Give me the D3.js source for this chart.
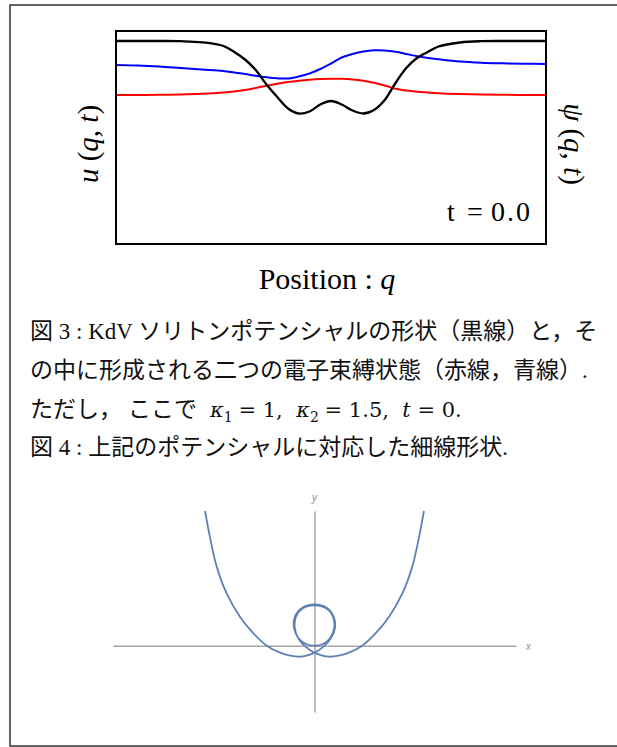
<!DOCTYPE html>
<html>
<head>
<meta charset="utf-8">
<script src="https://cdn.jsdelivr.net/npm/d3@7"></script>
<style>
  body { margin: 0; background: #fff; }
</style>
</head>
<body>
<div id="chart"></div>
<script>
// KdV 2-soliton potential (black) and its two bound states (red, blue), t = 0
const positions = [-10, -9, -8, -7, -6, -5, -4.5, -4, -3.5, -3, -2.5, -2, -1.5, -1, -0.5, 0,
  0.5, 1, 1.5, 2, 2.5, 3, 3.5, 4, 4.5, 5, 6, 7, 8, 9, 10];
const potential = [0, 0, 0, -0.002, -0.013, -0.05, -0.11, -0.185, -0.29, -0.435, -0.56, -0.675, -0.725, -0.705, -0.635, -0.6,
  -0.635, -0.695, -0.725, -0.69, -0.59, -0.42, -0.27, -0.17, -0.11, -0.055, -0.015, -0.002, 0, 0, 0];
const boundRed = [-0.54, -0.54, -0.538, -0.535, -0.528, -0.515, -0.505, -0.49, -0.47, -0.447, -0.427, -0.41, -0.397, -0.387, -0.38, -0.377,
  -0.378, -0.385, -0.398, -0.418, -0.445, -0.477, -0.495, -0.507, -0.515, -0.522, -0.53, -0.535, -0.538, -0.54, -0.54];
const boundBlue = [-0.24, -0.245, -0.255, -0.27, -0.285, -0.3, -0.315, -0.33, -0.348, -0.363, -0.373, -0.375, -0.355, -0.325, -0.28, -0.225,
  -0.165, -0.13, -0.105, -0.092, -0.095, -0.108, -0.13, -0.153, -0.17, -0.183, -0.205, -0.217, -0.223, -0.227, -0.23];

// thin wire shape (figure 4), points along the curve
const wireX = [-5.43, -5.19, -4.85, -4.36, -3.7, -3.04, -2.37, -1.71, -1.2, -0.72, -0.35, 0, 0.45, 0.8, 1.02, 0.95, 0.62, 0,
  -0.62, -0.97, -1.02, -0.78, -0.4, 0, 0.4, 0.76, 0.98, 0.92, 0.6, 0, -0.6, -0.92, -0.98, -0.8, -0.45, 0,
  0.35, 0.72, 1.2, 1.71, 2.37, 3.04, 3.7, 4.36, 4.85, 5.19, 5.43];
const wireY = [6.7, 5.41, 3.92, 2.6, 1.44, 0.62, 0, -0.35, -0.5, -0.55, -0.48, -0.35, -0.05, 0.35, 0.9, 1.45, 1.88, 2.05,
  1.88, 1.45, 0.9, 0.35, 0.07, 0, 0.07, 0.35, 0.9, 1.44, 1.85, 2.01, 1.85, 1.44, 0.9, 0.35, -0.05, -0.35,
  -0.48, -0.55, -0.5, -0.35, 0, 0.62, 1.44, 2.6, 3.92, 5.41, 6.7];

const serif = "'Liberation Serif', 'Times New Roman', 'Noto Sans CJK JP', serif";
const mathFont = "'DejaVu Serif', serif";

const svg = d3.select('#chart')
  .append('svg')
  .attr('width', 617)
  .attr('height', 747);

// outer page frame
svg.append('rect')
  .attr('x', 10).attr('y', 5)
  .attr('width', 640).attr('height', 741)
  .attr('fill', 'none')
  .attr('stroke', '#333')
  .attr('stroke-width', 1.5);

// ---- figure 3 ----
const x = d3.scaleLinear().domain([-10, 10]).range([116, 546]);
const y = d3.scaleLinear().domain([-2.03, 0.1]).range([244, 31]);

svg.append('clipPath').attr('id', 'clip')
  .append('rect')
  .attr('x', x(-10)).attr('y', y(0.1))
  .attr('width', x(10) - x(-10)).attr('height', y(-2.03) - y(0.1));

const line = d3.line()
  .x((d, i) => x(positions[i]))
  .y(d => y(d))
  .curve(d3.curveCatmullRom);

const plot = svg.append('g').attr('clip-path', 'url(#clip)');

plot.append('path').datum(boundRed)
  .attr('d', line).attr('fill', 'none')
  .attr('stroke', '#ff0000').attr('stroke-width', 2);

plot.append('path').datum(boundBlue)
  .attr('d', line).attr('fill', 'none')
  .attr('stroke', '#0000ff').attr('stroke-width', 2);

plot.append('path').datum(potential)
  .attr('d', line).attr('fill', 'none')
  .attr('stroke', '#000').attr('stroke-width', 2.3);

svg.append('rect')
  .attr('x', x(-10)).attr('y', y(0.1))
  .attr('width', x(10) - x(-10)).attr('height', y(-2.03) - y(0.1))
  .attr('fill', 'none')
  .attr('stroke', '#000')
  .attr('stroke-width', 2);

// t = 0.0
const tLabel = svg.append('text')
  .attr('y', 221)
  .style('font-family', serif)
  .style('font-size', '28px');
tLabel.append('tspan').attr('x', 447).text('t');
tLabel.append('tspan').attr('x', 467).text('=');
tLabel.append('tspan').attr('x', 491).attr('textLength', 39).text('0.0');

// left axis label
const uLabel = svg.append('text')
  .attr('transform', 'translate(98,144) rotate(-90)')
  .attr('text-anchor', 'middle')
  .style('font-family', serif)
  .style('font-size', '29px');
uLabel.append('tspan').style('font-style', 'italic').text('u');
uLabel.append('tspan').text(' (');
uLabel.append('tspan').style('font-style', 'italic').text('q');
uLabel.append('tspan').text(', ');
uLabel.append('tspan').style('font-style', 'italic').text('t');
uLabel.append('tspan').text(')');

// right axis label
const psiLabel = svg.append('text')
  .attr('transform', 'translate(564,144) rotate(90)')
  .attr('text-anchor', 'middle')
  .style('font-family', serif)
  .style('font-size', '29px');
psiLabel.append('tspan').style('font-style', 'italic').text('\u03c8');
psiLabel.append('tspan').text(' (');
psiLabel.append('tspan').style('font-style', 'italic').text('q');
psiLabel.append('tspan').text(', ');
psiLabel.append('tspan').style('font-style', 'italic').text('t');
psiLabel.append('tspan').text(')');

// x axis title
const posLabel = svg.append('text')
  .attr('x', 327).attr('y', 289)
  .attr('text-anchor', 'middle')
  .style('font-family', serif)
  .style('font-size', '30px');
posLabel.append('tspan').text('Position : ');
posLabel.append('tspan').style('font-style', 'italic').text('q');

// ---- caption ----
const capSize = 23;
const cap = (yy) => svg.append('text')
  .attr('x', 30).attr('y', yy)
  .style('font-family', serif)
  .style('font-size', capSize + 'px')
  .style('white-space', 'pre')
  .style('fill', '#111');

cap(339).text('図 3 : KdV ソリトンポテンシャルの形状（黒線）と，そ');
cap(378).text('の中に形成される二つの電子束縛状態（赤線，青線）.');

const l3 = cap(417);
l3.append('tspan').text('ただし，');
l3.append('tspan').attr('x', 128).text('ここで');
const math = (txt, italic, xx) => {
  const t = l3.append('tspan').style('font-family', mathFont).style('font-size', '21px').text(txt);
  if (italic) t.style('font-style', 'italic');
  if (xx !== undefined) t.attr('x', xx);
  return t;
};
const sub = (txt) => {
  l3.append('tspan').attr('dy', 5).style('font-family', mathFont).style('font-size', '14px').text(txt);
  l3.append('tspan').attr('dy', -5).text(' ');
};
math('\u03ba', true, 210);
sub('1');
math('= 1,  ');
math('\u03ba', true);
sub('2');
math('= 1.5,  ');
math('t', true);
math(' = 0.');

cap(455).text('図 4 : 上記のポテンシャルに対応した細線形状.');

// ---- figure 4 ----
const wx = d3.scaleLinear().domain([-10, 10]).range([113, 516]);
const wy = d3.scaleLinear().domain([-3.3, 6.7]).range([712, 511]);

const axisColor = '#7a7a7a';

svg.append('g')
  .attr('transform', 'translate(0,' + wy(0) + ')')
  .call(d3.axisBottom(wx).tickValues([]).tickSizeOuter(0))
  .call(g => g.select('.domain').attr('stroke', axisColor).attr('stroke-width', 1));

svg.append('g')
  .attr('transform', 'translate(' + wx(0) + ',0)')
  .call(d3.axisLeft(wy).tickValues([]).tickSizeOuter(0))
  .call(g => g.select('.domain').attr('stroke', axisColor).attr('stroke-width', 1));

svg.append('text')
  .attr('x', wx(10) + 10).attr('y', wy(0) + 4)
  .style('font-family', "'Open Sans', sans-serif")
  .style('font-style', 'italic')
  .style('font-size', '10px')
  .style('fill', '#888')
  .text('x');

svg.append('text')
  .attr('x', wx(0)).attr('y', wy(6.7) - 10)
  .attr('text-anchor', 'middle')
  .style('font-family', "'Open Sans', sans-serif")
  .style('font-style', 'italic')
  .style('font-size', '10px')
  .style('fill', '#888')
  .text('y');

const wire = d3.line()
  .x((d, i) => wx(wireX[i]))
  .y(d => wy(d))
  .curve(d3.curveCatmullRom);

svg.append('path').datum(wireY)
  .attr('d', wire)
  .attr('fill', 'none')
  .attr('stroke', '#5e81b5')
  .attr('stroke-width', 1.8);
</script>
</body>
</html>
